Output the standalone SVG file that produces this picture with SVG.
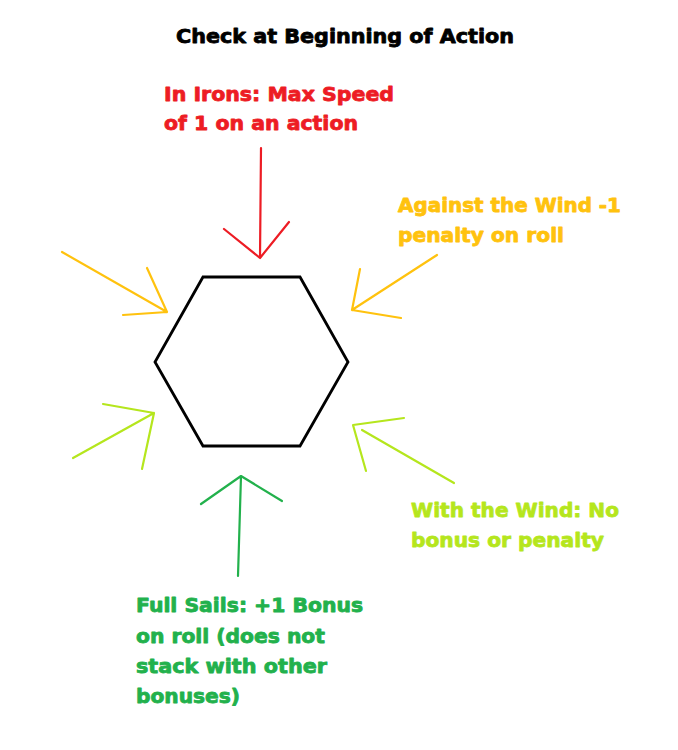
<svg xmlns="http://www.w3.org/2000/svg" width="678" height="750" viewBox="0 0 678 750">
<style>
text{font-family:"DejaVu Sans","Liberation Sans",sans-serif;font-weight:bold;font-size:19px;stroke-width:0.8;stroke-linejoin:round}
.t{fill:#000;stroke:#000}
.red{fill:#ED1C24;stroke:#ED1C24}.org{fill:#FFC20E;stroke:#FFC20E}.lg{fill:#B5E61D;stroke:#B5E61D}.grn{fill:#22B14C;stroke:#22B14C}
.a{fill:none;stroke-width:2.2;stroke-linecap:round;stroke-linejoin:round}
</style>
<rect width="678" height="750" fill="#fff"/>
<g id="title"><text class="t" x="176" y="43" textLength="338" lengthAdjust="spacingAndGlyphs">Check at Beginning of Action</text></g>
<g id="hexagon"><polygon points="203,277 300,277 348,362 300,446 203,446 155,362" fill="none" stroke="#000" stroke-width="2.8"/></g>
<g id="in-irons">
<text class="red" x="164" y="101" textLength="230" lengthAdjust="spacingAndGlyphs">In Irons: Max Speed</text>
<text class="red" x="164" y="130" textLength="194" lengthAdjust="spacingAndGlyphs">of 1 on an action</text>
</g>
<g id="against-wind">
<text class="org" x="398" y="212" textLength="223" lengthAdjust="spacingAndGlyphs">Against the Wind -1</text>
<text class="org" x="398" y="242" textLength="166" lengthAdjust="spacingAndGlyphs">penalty on roll</text>
</g>
<g id="with-wind">
<text class="lg" x="411" y="517" textLength="208" lengthAdjust="spacingAndGlyphs">With the Wind: No</text>
<text class="lg" x="411" y="547" textLength="193" lengthAdjust="spacingAndGlyphs">bonus or penalty</text>
</g>
<g id="full-sails">
<text class="grn" x="136" y="612" textLength="227" lengthAdjust="spacingAndGlyphs">Full Sails: +1 Bonus</text>
<text class="grn" x="136" y="643" textLength="189" lengthAdjust="spacingAndGlyphs">on roll (does not</text>
<text class="grn" x="136" y="673" textLength="191" lengthAdjust="spacingAndGlyphs">stack with other</text>
<text class="grn" x="136" y="703" textLength="104" lengthAdjust="spacingAndGlyphs">bonuses)</text>
</g>
<g id="connectors">
<g stroke="#ED1C24" class="a"><path d="M261,148 L260,258 M224,229 L260,258 L289,222"/></g>
<g stroke="#FFC20E" class="a">
<path d="M62,252 L167,312 M147,268 L167,312 L123,315"/>
<path d="M437,255 L352,310 M360,269 L352,310 L401,318"/>
</g>
<g stroke="#B5E61D" class="a">
<path d="M73,458 L154,413 M103,404 L154,413 L142,469"/>
<path d="M454,483 L362,430 M404,418 L353,425 L366,471"/>
</g>
<g stroke="#22B14C" class="a"><path d="M238,576 L241,476 M201,504 L241,476 L282,501"/></g>
</g>
</svg>
